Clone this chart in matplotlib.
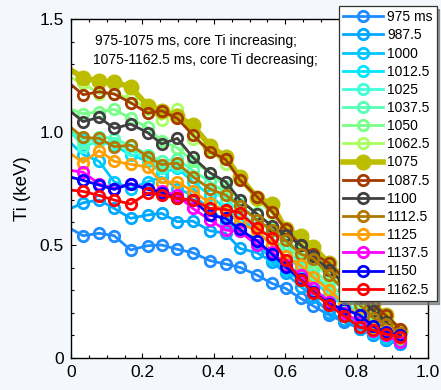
import matplotlib
matplotlib.use("Agg")
import matplotlib.pyplot as plt
import numpy as np

plt.rcParams['font.family'] = ['Liberation Sans', 'DejaVu Sans']

rho = [0.0, 0.034, 0.079, 0.121, 0.167, 0.215, 0.254, 0.298, 0.341, 0.389, 0.433, 0.473,
       0.521, 0.563, 0.601, 0.643, 0.679, 0.723, 0.765, 0.809, 0.846, 0.881, 0.922]

labels = ['975 ms', '987.5', '1000', '1012.5', '1025', '1037.5', '1050', '1062.5',
          '1075', '1087.5', '1100', '1112.5', '1125', '1137.5', '1150', '1162.5']

colors = ['#1E8CFF', '#00A8FF', '#00C8FF', '#00E6FF', '#40FFD8', '#55FFB4', '#78FF88', '#A8FF60',
          '#BDBD00', '#A33A00', '#404040', '#B07800', '#FFA000', '#FF00FF', '#0000FF', '#FF0000']

ti_975 = [0.571, 0.541, 0.552, 0.541, 0.478, 0.497, 0.500, 0.481, 0.466, 0.431, 0.416, 0.401,
          0.367, 0.330, 0.308, 0.264, 0.230, 0.190, 0.160, 0.130, 0.100, 0.080, 0.060]
ti_987 = [0.662, 0.687, 0.699, 0.662, 0.618, 0.633, 0.640, 0.603, 0.606, 0.563, 0.552, 0.485,
          0.466, 0.426, 0.375, 0.316, 0.271, 0.198, 0.170, 0.130, 0.100, 0.080, 0.060]
ti_1000 = [0.95, 0.90, 0.87, 0.78, 0.75, 0.78, 0.80, 0.75, 0.72, 0.66, 0.60, 0.56,
           0.50, 0.44, 0.39, 0.34, 0.29, 0.24, 0.19, 0.15, 0.11, 0.09, 0.07]
ti_1012 = [0.99, 0.97, 0.96, 0.94, 0.90, 0.87, 0.82, 0.84, 0.78, 0.72, 0.66, 0.62,
           0.56, 0.50, 0.45, 0.40, 0.34, 0.28, 0.23, 0.18, 0.14, 0.11, 0.08]
ti_1025 = [1.00, 0.935, 0.96, 0.95, 0.92, 0.88, 0.84, 0.85, 0.80, 0.75, 0.70, 0.65,
           0.58, 0.53, 0.48, 0.42, 0.37, 0.31, 0.25, 0.20, 0.16, 0.12, 0.09]
ti_1037 = [1.02, 0.95, 0.98, 0.97, 0.94, 0.90, 0.87, 0.88, 0.83, 0.78, 0.73, 0.68,
           0.61, 0.56, 0.50, 0.44, 0.39, 0.33, 0.27, 0.22, 0.17, 0.13, 0.10]
ti_1050 = [1.10, 1.08, 1.09, 1.10, 1.06, 1.02, 0.96, 0.93, 0.87, 0.82, 0.76, 0.70,
           0.64, 0.58, 0.53, 0.47, 0.42, 0.36, 0.30, 0.25, 0.19, 0.15, 0.11]
ti_1062 = [1.24, 1.215, 1.17, 1.17, 1.15, 1.10, 1.055, 1.10, 0.97, 0.92, 0.86, 0.80,
           0.70, 0.64, 0.57, 0.52, 0.47, 0.40, 0.34, 0.28, 0.22, 0.17, 0.12]
ti_1075 = [1.274, 1.24, 1.225, 1.22, 1.20, 1.115, 1.095, 1.07, 1.03, 0.94, 0.89, 0.80,
           0.71, 0.68, 0.57, 0.54, 0.49, 0.42, 0.35, 0.29, 0.24, 0.19, 0.12]
ti_1087 = [1.21, 1.165, 1.178, 1.168, 1.13, 1.083, 1.094, 1.06, 0.987, 0.913, 0.879, 0.788,
           0.714, 0.648, 0.57, 0.50, 0.46, 0.42, 0.35, 0.30, 0.24, 0.19, 0.13]
ti_1100 = [1.09, 1.046, 1.065, 1.016, 1.035, 0.997, 0.947, 0.972, 0.888, 0.82, 0.78, 0.70,
           0.637, 0.584, 0.544, 0.50, 0.45, 0.39, 0.33, 0.27, 0.21, 0.16, 0.10]
ti_1112 = [1.02, 0.976, 0.972, 0.935, 0.942, 0.89, 0.856, 0.862, 0.803, 0.748, 0.721, 0.673,
           0.61, 0.566, 0.52, 0.46, 0.44, 0.367, 0.30, 0.235, 0.178, 0.15, 0.11]
ti_1125 = [0.903, 0.865, 0.918, 0.87, 0.857, 0.845, 0.776, 0.780, 0.737, 0.687, 0.65, 0.60,
           0.56, 0.50, 0.45, 0.41, 0.357, 0.30, 0.24, 0.183, 0.139, 0.12, 0.09]
ti_1137 = [0.83, 0.822, 0.77, 0.75, 0.77, 0.75, 0.737, 0.72, 0.662, 0.611, 0.566, 0.56,
           0.50, 0.47, 0.412, 0.367, 0.308, 0.249, 0.20, 0.16, 0.12, 0.10, 0.07]
ti_1150 = [0.80, 0.786, 0.765, 0.746, 0.771, 0.746, 0.732, 0.706, 0.699, 0.633, 0.618, 0.569,
           0.519, 0.46, 0.404, 0.348, 0.293, 0.239, 0.215, 0.19, 0.14, 0.115, 0.10]
ti_1162 = [0.743, 0.737, 0.719, 0.699, 0.681, 0.73, 0.721, 0.706, 0.699, 0.662, 0.657, 0.643,
           0.574, 0.53, 0.434, 0.345, 0.289, 0.233, 0.186, 0.136, 0.124, 0.106, 0.094]

series = [ti_975, ti_987, ti_1000, ti_1012, ti_1025, ti_1037, ti_1050, ti_1062,
          ti_1075, ti_1087, ti_1100, ti_1112, ti_1125, ti_1137, ti_1150, ti_1162]

x_ticks = [0, 0.2, 0.4, 0.6, 0.8, 1.0]
x_ticklabels = ['0', '0.2', '0.4', '0.6', '0.8', '1.0']
y_ticks = [0, 0.5, 1.0, 1.5]
y_ticklabels = ['0', '0.5', '1.0', '1.5']

fig = plt.figure(figsize=(4.41, 3.90), dpi=100, facecolor='#f4f8fc')
ax = fig.add_axes([71/441, 1-358/390, (428-71)/441, (358-19)/390])
ax.set_facecolor('white')

mk = list(range(1, len(rho)))
for lab, col, ys in zip(labels, colors, series):
    if lab == '1075':
        ax.plot(rho, ys, color=col, lw=4.0, marker='o', ms=10.5, mfc=col, mec=col,
                markevery=mk, label=lab, zorder=2)
    else:
        ax.plot(rho, ys, color=col, lw=2.0, marker='o', ms=7.5, mfc='none', mec=col,
                mew=2.0, markevery=mk, label=lab, zorder=2)

ax.set_xlim(0, 1.0)
ax.set_ylim(0, 1.5)
ax.set_xticks(x_ticks)
ax.set_xticklabels(x_ticklabels)
ax.set_yticks(y_ticks)
ax.set_yticklabels(y_ticklabels)
ax.set_xticks(np.arange(0, 1.0001, 0.05), minor=True)
ax.set_yticks(np.arange(0, 1.5001, 0.1), minor=True)
ax.tick_params(which='both', direction='in', top=True, right=True, labelsize=12.5,
               colors='black', width=0.8)
ax.tick_params(which='major', length=3.5, pad=5)
ax.tick_params(which='minor', length=2)
for s in ax.spines.values():
    s.set_linewidth(1.0)
ax.set_ylabel('Ti (keV)', fontsize=13.5, labelpad=6)

ax.text(0.067, 1.403, '975-1075 ms, core Ti increasing;', fontsize=10, ha='left', va='center')
ax.text(0.062, 1.319, '1075-1162.5 ms, core Ti decreasing;', fontsize=10, ha='left', va='center')

leg = fig.legend(loc='upper left', bbox_to_anchor=(339/441, 1-6/390), fontsize=10,
                 frameon=True, fancybox=False, edgecolor='#333333', framealpha=1,
                 labelspacing=0.3, handlelength=2.9, handletextpad=0.25,
                 borderpad=0.3, borderaxespad=0, shadow={'color': '0.45', 'alpha': 0.7})
leg.get_frame().set_linewidth(0.9)

fig.savefig('out.png', dpi=100, facecolor=fig.get_facecolor())
